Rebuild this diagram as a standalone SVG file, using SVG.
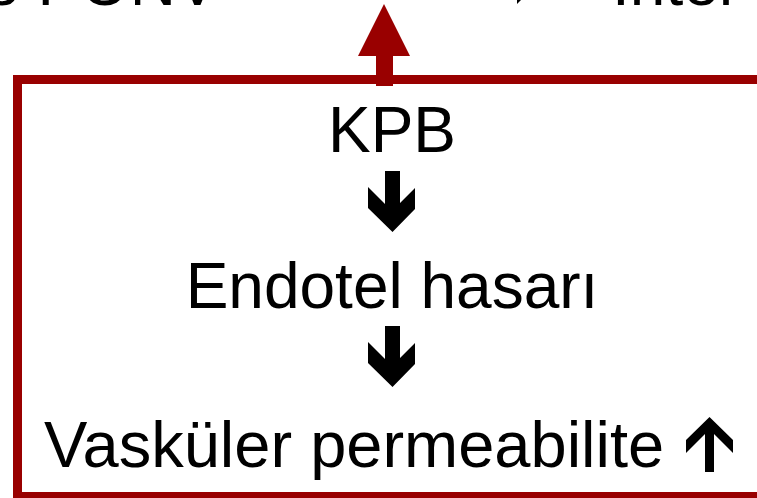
<svg xmlns="http://www.w3.org/2000/svg" width="757" height="498" viewBox="0 0 757 498">
<style>
.t{font-family:"Liberation Sans",Arial,sans-serif;font-size:64px;fill:#000}
.blk{fill:#000}
.red{fill:#990000}
</style>
<rect x="0" y="0" width="757" height="498" fill="#fff"/>
<g id="top-left-label"><text class="t" x="-16" y="4.5">e PONV</text></g>
<g id="top-right-label">
<polygon class="blk" points="541,-20 517,4 517,-9 498,-9 498,-31 517,-31 517,-44"/>
<text class="t" x="612" y="4.5">Inter</text>
</g>
<g id="frame"><rect x="17.5" y="79.5" width="800" height="417" fill="none" stroke="#990000" stroke-width="9"/></g>
<g id="connectors">
<polygon class="red" points="384,4 410,56 393,56 393,86 376,86 376,56 358,56"/>
<polygon class="blk" points="385,171 400,171 400,203 415,188 415,209 392.5,232 368,208 368,187 385,204"/>
<polygon class="blk" points="385,326 400,326 400,358 415,343 415,364 392.5,387 368,363 368,342 385,359"/>
</g>
<g id="kpb"><text class="t" x="392" y="152" text-anchor="middle">KPB</text></g>
<g id="endotel"><text class="t" x="392" y="308" text-anchor="middle">Endotel hasarı</text></g>
<g id="vaskuler">
<text class="t" x="44" y="467" style="font-size:65px">Vasküler permeabilite</text>
<polygon class="blk" points="709.5,417 733,440 733,453 714,434 714,472 705,472 705,434 686,453 686,440"/>
</g>
</svg>
